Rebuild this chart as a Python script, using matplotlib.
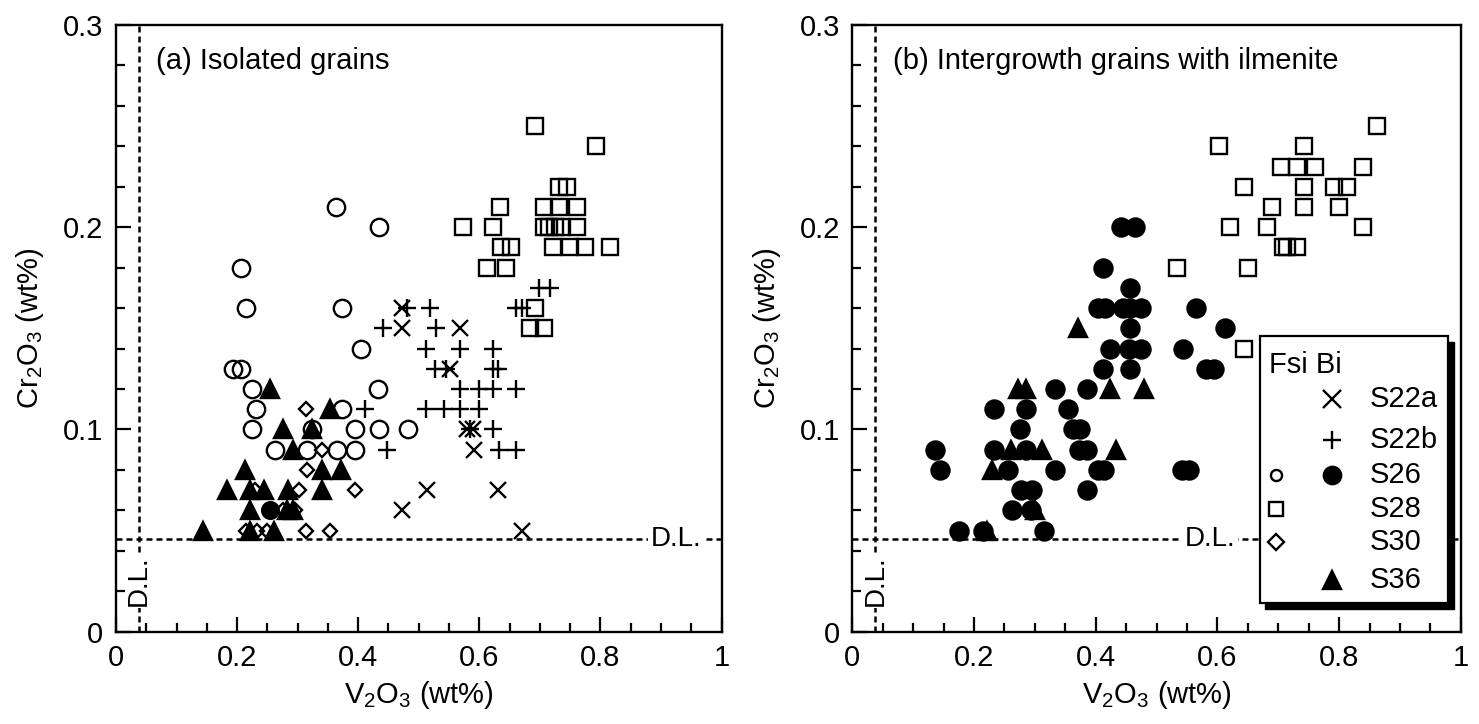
import matplotlib
matplotlib.use("Agg")
import matplotlib.pyplot as plt
from matplotlib.patches import Rectangle
import numpy as np

plt.rcParams['font.family'] = ['Liberation Sans', 'DejaVu Sans']
plt.rcParams['mathtext.fontset'] = 'custom'
plt.rcParams['mathtext.rm'] = 'Liberation Sans'
plt.rcParams['mathtext.it'] = 'Liberation Sans'
plt.rcParams['mathtext.bf'] = 'Liberation Sans'

# ---- (a) isolated grains ----
a_s22a_x = [0.472, 0.472, 0.568, 0.552, 0.580, 0.590, 0.592, 0.513, 0.630, 0.472, 0.670]
a_s22a_y = [0.16, 0.15, 0.15, 0.13, 0.10, 0.10, 0.09, 0.07, 0.07, 0.06, 0.05]

a_s22b_x = [0.480, 0.519, 0.441, 0.529, 0.512, 0.568, 0.622, 0.527, 0.545, 0.622,
            0.630, 0.568, 0.599, 0.622, 0.661, 0.512, 0.541, 0.568, 0.599, 0.411,
            0.585, 0.623, 0.632, 0.661, 0.447, 0.661, 0.670, 0.699, 0.717]
a_s22b_y = [0.16, 0.16, 0.15, 0.15, 0.14, 0.14, 0.14, 0.13, 0.13, 0.13,
            0.13, 0.12, 0.12, 0.12, 0.12, 0.11, 0.11, 0.11, 0.11, 0.11,
            0.10, 0.10, 0.09, 0.09, 0.09, 0.16, 0.16, 0.17, 0.17]

a_s26_fsi_x = [0.364, 0.435, 0.206, 0.215, 0.373, 0.404, 0.193, 0.206, 0.224, 0.433,
               0.232, 0.373, 0.224, 0.324, 0.395, 0.434, 0.483, 0.262, 0.316, 0.365, 0.395]
a_s26_fsi_y = [0.21, 0.20, 0.18, 0.16, 0.16, 0.14, 0.13, 0.13, 0.12, 0.12,
               0.11, 0.11, 0.10, 0.10, 0.10, 0.10, 0.10, 0.09, 0.09, 0.09, 0.09]
a_s26_bi_x = [0.254]
a_s26_bi_y = [0.06]

a_s28_x = [0.692, 0.792, 0.731, 0.745, 0.634, 0.706, 0.731, 0.762, 0.573, 0.622,
           0.707, 0.715, 0.725, 0.736, 0.762, 0.635, 0.652, 0.722, 0.750, 0.775,
           0.815, 0.613, 0.644, 0.692, 0.684, 0.706]
a_s28_y = [0.25, 0.24, 0.22, 0.22, 0.21, 0.21, 0.21, 0.21, 0.20, 0.20,
           0.20, 0.20, 0.20, 0.20, 0.20, 0.19, 0.19, 0.19, 0.19, 0.19,
           0.19, 0.18, 0.18, 0.16, 0.15, 0.15]

a_s30_x = [0.314, 0.340, 0.316, 0.230, 0.302, 0.394, 0.276, 0.295, 0.214, 0.233, 0.250, 0.314, 0.353]
a_s30_y = [0.11, 0.09, 0.08, 0.07, 0.07, 0.07, 0.06, 0.06, 0.05, 0.05, 0.05, 0.05, 0.05]

a_s36_x = [0.254, 0.353, 0.276, 0.324, 0.292, 0.213, 0.340, 0.371, 0.183, 0.221,
           0.244, 0.284, 0.340, 0.222, 0.283, 0.292, 0.144, 0.222, 0.261]
a_s36_y = [0.12, 0.11, 0.10, 0.10, 0.09, 0.08, 0.08, 0.08, 0.07, 0.07,
           0.07, 0.07, 0.07, 0.06, 0.06, 0.06, 0.05, 0.05, 0.05]

# ---- (b) intergrowth grains with ilmenite ----
b_s26_x = [0.442, 0.464, 0.412, 0.456, 0.403, 0.416, 0.444, 0.457, 0.474, 0.565,
           0.456, 0.613, 0.424, 0.455, 0.474, 0.543, 0.412, 0.456, 0.581, 0.594,
           0.333, 0.385, 0.232, 0.285, 0.355, 0.275, 0.362, 0.374, 0.136, 0.232,
           0.285, 0.372, 0.386, 0.144, 0.255, 0.333, 0.403, 0.414, 0.542, 0.553,
           0.277, 0.296, 0.385, 0.263, 0.293, 0.175, 0.215, 0.315]
b_s26_y = [0.20, 0.20, 0.18, 0.17, 0.16, 0.16, 0.16, 0.16, 0.16, 0.16,
           0.15, 0.15, 0.14, 0.14, 0.14, 0.14, 0.13, 0.13, 0.13, 0.13,
           0.12, 0.12, 0.11, 0.11, 0.11, 0.10, 0.10, 0.10, 0.09, 0.09,
           0.09, 0.09, 0.09, 0.08, 0.08, 0.08, 0.08, 0.08, 0.08, 0.08,
           0.07, 0.07, 0.07, 0.06, 0.06, 0.05, 0.05, 0.05]

b_s28_x = [0.862, 0.602, 0.743, 0.704, 0.731, 0.760, 0.840, 0.643, 0.743, 0.791,
           0.813, 0.690, 0.743, 0.800, 0.620, 0.682, 0.840, 0.707, 0.715, 0.730,
           0.533, 0.651, 0.643]
b_s28_y = [0.25, 0.24, 0.24, 0.23, 0.23, 0.23, 0.23, 0.22, 0.22, 0.22,
           0.22, 0.21, 0.21, 0.21, 0.20, 0.20, 0.20, 0.19, 0.19, 0.19,
           0.18, 0.18, 0.14]

b_s36_x = [0.371, 0.272, 0.285, 0.423, 0.480, 0.260, 0.312, 0.433, 0.230, 0.300, 0.222]
b_s36_y = [0.15, 0.12, 0.12, 0.12, 0.12, 0.09, 0.09, 0.09, 0.08, 0.06, 0.05]

dl_x = 0.038
dl_y = 0.046

legend_rows = ['S22a', 'S22b', 'S26', 'S28', 'S30', 'S36']
legend_fsi = [None, None, 'o', 's', 'D', None]
legend_bi = ['x', '+', 'o', None, None, '^']

FS = 21
MEW = 1.7


def pts(ax, x, y, marker, filled=False, ms=12):
    ax.plot(x, y, linestyle='none', marker=marker, ms=ms,
            mfc='black' if filled else 'none', mec='black', mew=MEW,
            clip_on=False, zorder=3)


def style_axes(ax, title):
    ax.set_xlim(0, 1)
    ax.set_ylim(0, 0.3)
    ax.set_xticks(np.arange(0, 1.01, 0.2))
    ax.set_xticklabels(['0', '0.2', '0.4', '0.6', '0.8', '1'])
    ax.set_xticks(np.arange(0, 1.01, 0.05), minor=True)
    ax.set_yticks([0, 0.1, 0.2, 0.3])
    ax.set_yticklabels(['0', '0.1', '0.2', '0.3'])
    ax.set_yticks(np.arange(0, 0.301, 0.02), minor=True)
    ax.tick_params(which='both', direction='in', top=False, right=False,
                   width=1.6, labelsize=FS)
    ax.tick_params(which='major', length=11)
    ax.tick_params(which='minor', length=6.5)
    ax.tick_params(axis='x', pad=9)
    ax.tick_params(axis='y', pad=9)
    for s in ax.spines.values():
        s.set_linewidth(1.7)
    ax.set_xlabel('V$_2$O$_3$ (wt%)', fontsize=FS, labelpad=5)
    ax.set_ylabel('Cr$_2$O$_3$ (wt%)', fontsize=FS, labelpad=12)
    ax.text(0.066, 0.94, title, transform=ax.transAxes, fontsize=FS,
            ha='left', va='center')
    dash = (0, (2.4, 1.6))
    ax.axvline(dl_x, color='black', lw=1.8, linestyle=dash, zorder=1)
    ax.axhline(dl_y, color='black', lw=1.8, linestyle=dash, zorder=1)
    ax.text(dl_x, 0.025, 'D.L.', rotation=90, ha='center', va='center',
            fontsize=FS - 1, zorder=2,
            bbox=dict(facecolor='white', edgecolor='none', pad=1))


fig = plt.figure(figsize=(14.79, 7.24), dpi=100)
ax1 = fig.add_axes([0.0784, 0.1275, 0.4095, 0.838])
ax2 = fig.add_axes([0.5763, 0.1275, 0.4114, 0.838])

style_axes(ax1, '(a) Isolated grains')
style_axes(ax2, '(b) Intergrowth grains with ilmenite')

ax1.text(0.966, dl_y, 'D.L.', transform=ax1.get_yaxis_transform(), ha='right',
         va='center', fontsize=FS - 1, zorder=2,
         bbox=dict(facecolor='white', edgecolor='none', pad=2))
ax2.text(0.63, dl_y, 'D.L.', transform=ax2.get_yaxis_transform(), ha='right',
         va='center', fontsize=FS - 1, zorder=2,
         bbox=dict(facecolor='white', edgecolor='none', pad=2))

# panel (a)
pts(ax1, a_s28_x, a_s28_y, 's', ms=11.5)
pts(ax1, a_s26_fsi_x, a_s26_fsi_y, 'o', ms=12.5)
pts(ax1, a_s30_x, a_s30_y, 'D', ms=7.5)
pts(ax1, a_s22a_x, a_s22a_y, 'x', ms=12)
pts(ax1, a_s22b_x, a_s22b_y, '+', ms=13.5)
pts(ax1, a_s36_x, a_s36_y, '^', filled=True, ms=12.5)
pts(ax1, a_s26_bi_x, a_s26_bi_y, 'o', filled=True, ms=12)

# panel (b)
pts(ax2, b_s28_x, b_s28_y, 's', ms=11.5)
pts(ax2, b_s36_x, b_s36_y, '^', filled=True, ms=12.5)
pts(ax2, b_s26_x, b_s26_y, 'o', filled=True, ms=13)

# custom legend box with shadow
bx, by, bw, bh = 0.670, 0.047, 0.309, 0.440
ax2.add_patch(Rectangle((bx + 0.009, by - 0.01), bw, bh, transform=ax2.transAxes,
                        facecolor='black', edgecolor='black', zorder=5, clip_on=False))
ax2.add_patch(Rectangle((bx, by), bw, bh, transform=ax2.transAxes,
                        facecolor='white', edgecolor='black', lw=1.6, zorder=6,
                        clip_on=False))
ax2.text(0.684, 0.44, 'Fsi Bi', transform=ax2.transAxes, fontsize=FS,
         ha='left', va='center', zorder=7)
row_y = [0.383, 0.316, 0.259, 0.203, 0.148, 0.085]
fsi_ms = {'o': 8, 's': 10, 'D': 8}
for name, mf, mb, ry in zip(legend_rows, legend_fsi, legend_bi, row_y):
    if mf is not None:
        ax2.plot([0.697], [ry], transform=ax2.transAxes, linestyle='none',
                 marker=mf, ms=fsi_ms[mf], mfc='none', mec='black', mew=MEW,
                 zorder=7, clip_on=False)
    if mb is not None:
        ax2.plot([0.788], [ry], transform=ax2.transAxes, linestyle='none',
                 marker=mb, ms=12.5, mfc='black', mec='black', mew=MEW,
                 zorder=7, clip_on=False)
    ax2.text(0.851, ry, name, transform=ax2.transAxes, fontsize=FS,
             ha='left', va='center', zorder=7)

fig.savefig('out.png', dpi=100)
